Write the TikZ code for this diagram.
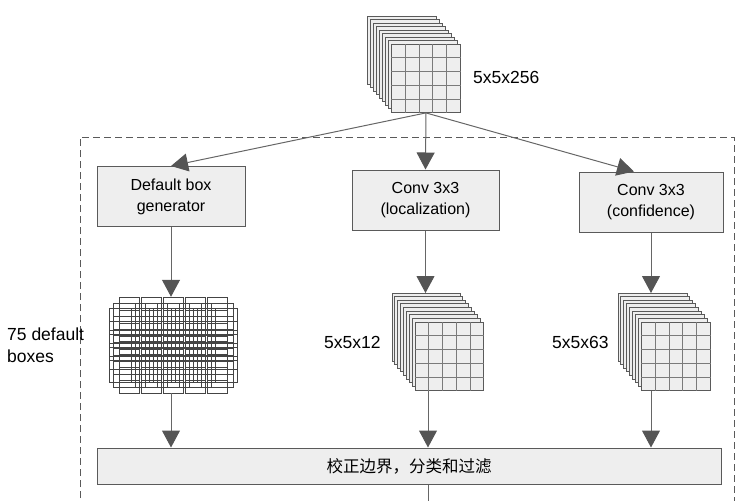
\documentclass[tikz,border=0pt]{standalone}
\usepackage{fontspec}
\setmainfont{Liberation Sans}
\newfontfamily\cjk{Noto Sans CJK SC}
\usetikzlibrary{arrows.meta,calc}
\definecolor{boxfill}{HTML}{EEEEEE}
\definecolor{edge}{HTML}{5A5A5A}
\definecolor{lineg}{HTML}{666666}
\definecolor{headg}{HTML}{555555}
\definecolor{gridg}{HTML}{7A7A7A}
\definecolor{dboxc}{HTML}{444444}
\tikzset{
 blockbox/.style={draw=edge, fill=boxfill, line width=1pt, inner sep=0, align=center, font=\fontsize{16}{21}\selectfont},
 sheet/.style={draw=edge, fill=boxfill, line width=0.9pt},
 gridline/.style={draw=gridg, line width=0.9pt},
 conn/.style={draw=lineg, line width=1pt, -{Triangle[width=18pt,length=17pt,fill=headg,color=headg]}},
 plainline/.style={draw=lineg, line width=1pt},
 lbl/.style={inner sep=0, font=\fontsize{17.5}{22}\selectfont},
 dflt/.style={draw=dboxc, line width=1pt},
 frame/.style={draw=edge, line width=1pt, dash pattern=on 7pt off 4pt},
}
% #1 name, #2 x0, #3 y0 (front top-left), #4 w, #5 h, #6 dx, #7 dy
\newcommand\fmstack[7]{%
 \foreach \k in {8,...,1}{
   \draw[sheet] ({#2-\k*#6},{#3-\k*#7}) rectangle ++(#4,#5);
 }
 \node[sheet, minimum width=#4pt, minimum height=#5pt, inner sep=0, anchor=north west] (#1front) at (#2,#3) {};
 \foreach \i in {1,...,4}{
   \draw[gridline] ($(#1front.north west)!\i/5!(#1front.north east)$) -- ($(#1front.south west)!\i/5!(#1front.south east)$);
   \draw[gridline] ($(#1front.north west)!\i/5!(#1front.south west)$) -- ($(#1front.north east)!\i/5!(#1front.south east)$);
 }
 \node[inner sep=0, minimum width=#4pt, minimum height=#5pt, anchor=north west] (#1back) at ({#2-8*#6},{#3-8*#7}) {};
}
\begin{document}
\begin{tikzpicture}[x=1pt,y=-1pt]
\useasboundingbox (0,0) rectangle (745,501);
\clip (0,0) rectangle (745,501);
\draw[frame] (80,520) -- (80,137) -- (734,137) -- (734,520);

% top feature map
\fmstack{top}{391}{44}{69}{68}{3}{3.5}
\node[lbl, anchor=west] (lbltop) at (473,77.5) {5x5x256};

% boxes
\node[blockbox, minimum width=148pt, minimum height=60pt] (dgen) at (171,196.5) {Default box\\generator};
\node[blockbox, minimum width=147pt, minimum height=60pt] (locbox) at (425.5,200) {Conv 3x3\\(localization)};
\node[blockbox, minimum width=144pt, minimum height=60pt] (confbox) at (651,202) {Conv 3x3\\(confidence)};

\draw[conn] (topfront.south) -- (dgen.north);
\draw[conn] (topfront.south) -- (locbox.north);
\draw[conn] (topfront.south) -- ($(confbox.north)+(-17,0)$);

% default boxes
\foreach \i in {0,...,4}{\foreach \j in {0,...,4}{
 \pgfmathsetmacro\cx{129+22*\i}
 \pgfmathsetmacro\cy{319+13*\j}
 \draw[dflt] ({\cx-10},{\cy-22}) rectangle ({\cx+10},{\cy+22});
 \draw[dflt] ({\cx-20},{\cy-11}) rectangle ({\cx+20},{\cy+11});
 \draw[dflt] ({\cx-16},{\cy-16}) rectangle ({\cx+16},{\cy+16});
}}
\node[inner sep=0, minimum width=129pt, minimum height=96pt] (dboxes) at (173,345) {};
\node[lbl, anchor=west, align=left] (lbl75) at (7,345) {75 default\\boxes};

% loc / conf stacks
\fmstack{loc}{415}{322}{68}{68}{2.875}{3.625}
\fmstack{conf}{641}{322}{69}{68}{2.875}{3.625}
\node[lbl, anchor=west] (lblloc) at (324,342.5) {5x5x12};
\node[lbl, anchor=west] (lblconf) at (552,342.5) {5x5x63};

\draw[conn] (dgen.south) -- (dgen.south |- dboxes.north);
\draw[conn] (locbox.south) -- (locbox.south |- locback.north);
\draw[conn] (confbox.south) -- (confbox.south |- confback.north);

% final
\node[blockbox, minimum width=624pt, minimum height=36pt, font=\cjk\fontsize{16.5}{20}\selectfont] (final) at (409,466) {校正边界，分类和过滤};

\draw[conn] (dgen.south |- dboxes.south) -- (dgen.south |- final.north);
\draw[conn] ($(locbox.south |- locfront.south)+(2.5,0)$) -- ($(locbox.south |- final.north)+(2.5,0)$);
\draw[conn] (confbox.south |- conffront.south) -- (confbox.south |- final.north);
\draw[plainline] ($(final.south)+(19,0)$) -- ++(0,25);
\end{tikzpicture}
\end{document}
